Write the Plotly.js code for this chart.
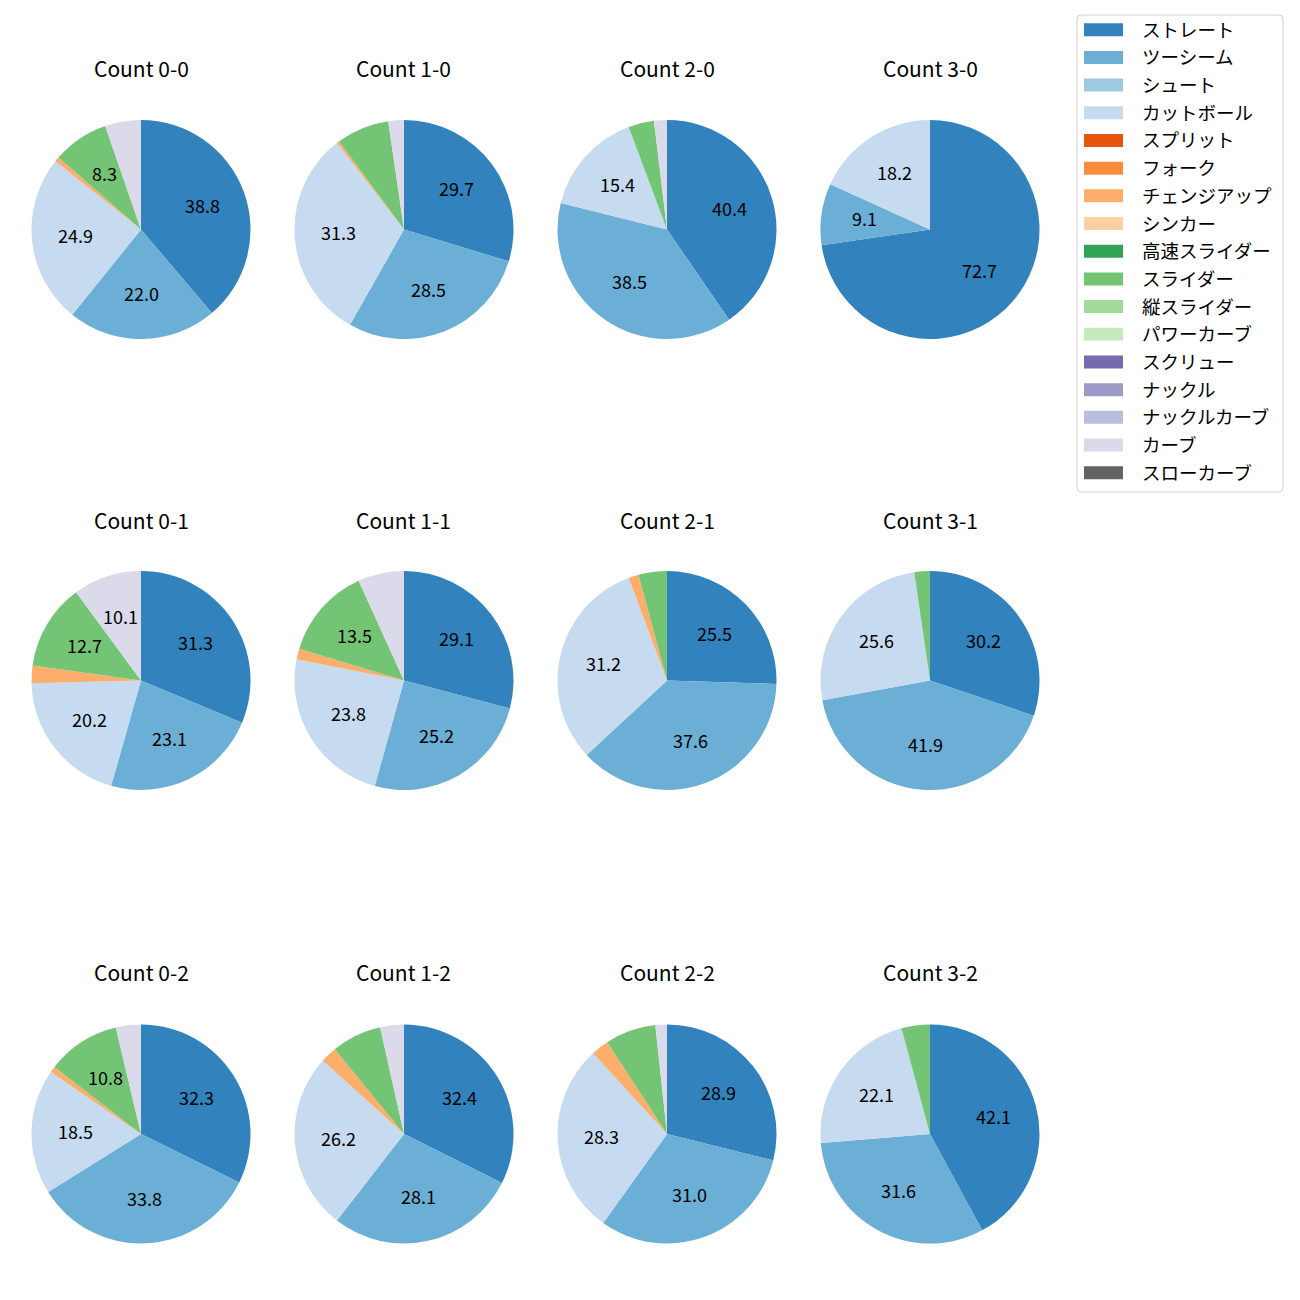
<!DOCTYPE html>
<html><head><meta charset="utf-8">
<script src="https://cdn.plot.ly/plotly-3.0.1.min.js"></script>
</head><body style="margin:0;background:#fff">
<div id="chart" style="width:1300px;height:1300px"></div>
<script>
const pitchTypes = ['ストレート','ツーシーム','シュート','カットボール','スプリット','フォーク','チェンジアップ','シンカー','高速スライダー','スライダー','縦スライダー','パワーカーブ','スクリュー','ナックル','ナックルカーブ','カーブ','スローカーブ'];
const pitchColors = ['#3182bd','#6baed6','#9ecae1','#c6dbef','#e6550d','#fd8d3c','#fdae6b','#fdd0a2','#31a354','#74c476','#a1d99b','#c7e9c0','#756bb1','#9e9ac8','#bcbddc','#dadaeb','#636363'];
const countLabels = ['0-0','1-0','2-0','3-0','0-1','1-1','2-1','3-1','0-2','1-2','2-2','3-2'];
// share (%) per pitch type, in pitchTypes order
const share_0_0 = [38.8,22.0,0,24.9,0,0,0.7,0,0,8.3,0,0,0,0,0,5.3,0];
const share_1_0 = [29.7,28.5,0,31.3,0,0,0.4,0,0,7.8,0,0,0,0,0,2.3,0];
const share_2_0 = [40.4,38.5,0,15.4,0,0,0,0,0,3.8,0,0,0,0,0,1.9,0];
const share_3_0 = [72.7,9.1,0,18.2,0,0,0,0,0,0,0,0,0,0,0,0,0];
const share_0_1 = [31.3,23.1,0,20.2,0,0,2.6,0,0,12.7,0,0,0,0,0,10.1,0];
const share_1_1 = [29.1,25.2,0,23.8,0,0,1.6,0,0,13.5,0,0,0,0,0,6.8,0];
const share_2_1 = [25.5,37.6,0,31.2,0,0,1.5,0,0,4.2,0,0,0,0,0,0,0];
const share_3_1 = [30.2,41.9,0,25.6,0,0,0,0,0,2.3,0,0,0,0,0,0,0];
const share_0_2 = [32.3,33.8,0,18.5,0,0,0.9,0,0,10.8,0,0,0,0,0,3.7,0];
const share_1_2 = [32.4,28.1,0,26.2,0,0,2.4,0,0,7.4,0,0,0,0,0,3.5,0];
const share_2_2 = [28.9,31.0,0,28.3,0,0,2.6,0,0,7.5,0,0,0,0,0,1.7,0];
const share_3_2 = [42.1,31.6,0,22.1,0,0,0,0,0,4.2,0,0,0,0,0,0,0];
const shares = [share_0_0,share_1_0,share_2_0,share_3_0,share_0_1,share_1_1,share_2_1,share_3_1,share_0_2,share_1_2,share_2_2,share_3_2];

const W = 1300, H = 1300;
const FONT = '"Noto Sans CJK JP", "Noto Sans", sans-serif';
const colX = [141, 404, 667, 930];
const rowY = [229.5, 680.5, 1134];
const R = 109.5;
const titleY = [68, 520, 972];
const px = v => v / W, py = v => 1 - v / H;

const traces = [];
const annotations = [];
shares.forEach((vals, i) => {
  const col = i % 4, row = Math.floor(i / 4);
  const cx = colX[col], cy = rowY[row];
  const total = vals.reduce((a, b) => a + b, 0);
  traces.push({
    type: 'pie',
    labels: pitchTypes,
    values: vals,
    textinfo: 'none',
    marker: {colors: pitchColors, line: {width: 0}},
    sort: false,
    direction: 'clockwise',
    rotation: 0,
    showlegend: false,
    hoverinfo: 'label+percent',
    domain: {x: [px(cx - R), px(cx + R)], y: [py(cy + R), py(cy - R)]}
  });
  // percentage labels at 0.6 radius along each slice's mid-angle
  let cum = 0;
  vals.forEach(v => {
    const pct = v / total * 100;
    const mid = (cum + v / 2) / total * 2 * Math.PI;
    cum += v;
    if (pct >= 8) {
      annotations.push({
        text: pct.toFixed(1), xref: 'paper', yref: 'paper',
        x: px(cx + 0.6 * R * Math.sin(mid)), y: py(cy - 0.6 * R * Math.cos(mid) - 2),
        xanchor: 'center', yanchor: 'middle', showarrow: false,
        font: {family: FONT, size: 18, color: '#000'}
      });
    }
  });
  annotations.push({
    text: 'Count ' + countLabels[i], xref: 'paper', yref: 'paper',
    x: px(cx), y: py(titleY[row]), xanchor: 'center', yanchor: 'middle',
    showarrow: false, font: {family: FONT, size: 21, color: '#000'}
  });
});

// legend (drawn manually to match spacing)
const shapes = [];
const lx0 = 1077, lx1 = 1283, ly0 = 15, ly1 = 492, rr = 4;
shapes.push({
  type: 'path', xref: 'paper', yref: 'paper',
  path: `M${px(lx0+rr)},${py(ly0)} L${px(lx1-rr)},${py(ly0)} Q${px(lx1)},${py(ly0)} ${px(lx1)},${py(ly0+rr)} L${px(lx1)},${py(ly1-rr)} Q${px(lx1)},${py(ly1)} ${px(lx1-rr)},${py(ly1)} L${px(lx0+rr)},${py(ly1)} Q${px(lx0)},${py(ly1)} ${px(lx0)},${py(ly1-rr)} L${px(lx0)},${py(ly0+rr)} Q${px(lx0)},${py(ly0)} ${px(lx0+rr)},${py(ly0)} Z`,
  line: {color: '#d0d0d0', width: 1}, fillcolor: 'rgba(255,255,255,0.8)'
});
pitchTypes.forEach((name, k) => {
  const yc = 29.7 + k * 27.69;
  shapes.push({type: 'rect', xref: 'paper', yref: 'paper',
    x0: px(1084), x1: px(1123), y0: py(yc - 6.5), y1: py(yc + 6.5),
    fillcolor: pitchColors[k], line: {width: 0}});
  annotations.push({text: name, xref: 'paper', yref: 'paper', x: px(1140), y: py(yc - 1),
    xanchor: 'left', yanchor: 'middle', showarrow: false,
    font: {family: FONT, size: 18.5, color: '#000'}});
});

Plotly.newPlot('chart', traces, {
  width: W, height: H, margin: {l: 0, r: 0, t: 0, b: 0},
  paper_bgcolor: '#fff', plot_bgcolor: '#fff',
  showlegend: false, annotations, shapes
}, {staticPlot: true});
</script>
</body></html>
